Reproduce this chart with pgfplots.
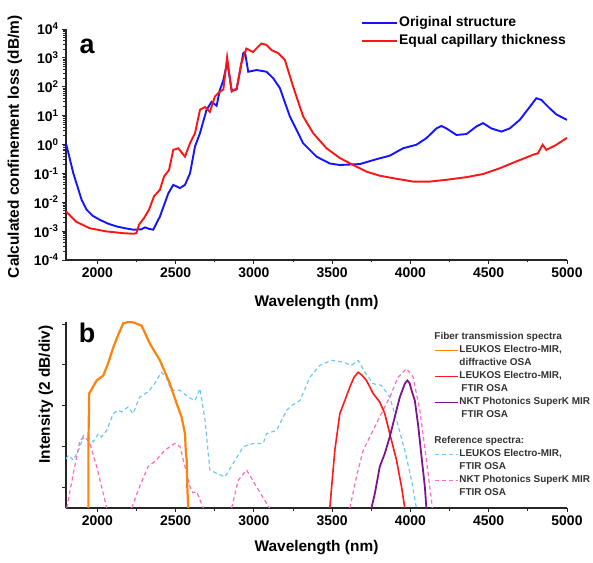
\documentclass[border=0pt]{standalone}
\usepackage{fontspec}
\setmainfont{Liberation Sans}
\usepackage{pgfplots}
\pgfplotsset{compat=1.18}

\definecolor{lossblue}{RGB}{20,20,255}
\definecolor{lossred}{RGB}{255,20,20}
\definecolor{leukorange}{RGB}{255,130,10}
\definecolor{leukred}{RGB}{255,25,25}
\definecolor{nktpurple}{RGB}{125,20,140}
\definecolor{refblue}{RGB}{110,200,245}
\definecolor{refpink}{RGB}{255,105,200}

\pgfplotsset{
  wlaxis/.style={
    scale only axis,
    anchor=south west,
    width=501bp,
    xmin=1800, xmax=5000,
    axis lines*=left,
    axis line style={line width=1.1bp, black!85},
    tick style={line width=0.9bp, black!85},
    tick align=outside,
    major tick length=4bp,
    minor tick length=2.5bp,
    xtick={2000,2500,3000,3500,4000,4500,5000},
    minor x tick num=1,
    tick label style={font=\fontsize{14}{16}\selectfont\bfseries},
    /pgf/number format/assume math mode=true,
    /pgf/number format/1000 sep={},
    label style={font=\fontsize{15.5}{18}\selectfont\bfseries},
    clip mode=individual,
  },
}

\begin{document}
\begin{tikzpicture}
\path[use as bounding box] (0,0) rectangle (593bp,563bp);
\clip (0,0) rectangle (593bp,563bp);

% ---- panel a
\begin{axis}[
  wlaxis,
  at={(66bp,303bp)},
  height=231bp,
  ymode=log,
  ymin=1e-4, ymax=1e4,
  ytick={1e-4,1e-3,1e-2,1e-1,1,1e1,1e2,1e3,1e4},
  minor ytick={2e-4,3e-4,4e-4,5e-4,6e-4,7e-4,8e-4,9e-4,
    2e-3,3e-3,4e-3,5e-3,6e-3,7e-3,8e-3,9e-3,
    2e-2,3e-2,4e-2,5e-2,6e-2,7e-2,8e-2,9e-2,
    0.2,0.3,0.4,0.5,0.6,0.7,0.8,0.9,
    2,3,4,5,6,7,8,9,
    20,30,40,50,60,70,80,90,
    200,300,400,500,600,700,800,900,
    2000,3000,4000,5000,6000,7000,8000,9000},
  yticklabels={10\textsuperscript{-4},10\textsuperscript{-3},10\textsuperscript{-2},10\textsuperscript{-1},10\textsuperscript{0},10\textsuperscript{1},10\textsuperscript{2},10\textsuperscript{3},10\textsuperscript{4}},
  xlabel={Wavelength (nm)},
  xlabel style={at={(axis description cs:0.5,-0.182)}, anchor=center},
  ylabel={Calculated confinement loss (dB/m)},
  ylabel style={at={(axis description cs:-0.102,0.49)}, anchor=center},
  legend style={at={(axis description cs:0.589,1.065)}, anchor=north west,
    draw=none, fill=none, inner sep=0pt, row sep=0pt,
    font=\fontsize{14}{16}\selectfont\bfseries,
    nodes={inner xsep=1bp, inner ysep=2bp, text height=10.5bp, text depth=3.5bp}},
  legend cell align=left,
  legend image code/.code={\draw[#1] (0bp,0bp) -- (35bp,0bp);},
]
\addplot[lossblue, line width=1.9bp] coordinates {
(1800,1.1) (1847,0.1) (1900,0.012) (1932,5.5e-3) (1970,3.4e-3) (2017,2.45e-3)
(2070,1.8e-3) (2124,1.45e-3) (2180,1.25e-3) (2230,1.12e-3) (2280,1.15e-3)
(2305,1.35e-3) (2330,1.2e-3) (2357,1.12e-3) (2400,3.2e-3) (2453,0.02)
(2485,0.04) (2528,0.031) (2560,0.04) (2592,0.10) (2624,0.85) (2656,2.5)
(2698,16) (2730,30) (2762,22) (2783,78) (2805,170) (2830,700) (2858,78)
(2890,80) (2932,1450) (2943,1600) (2964,330) (3017,380) (3081,330) (3124,195)
(3166,90) (3230,9.3) (3315,1.1) (3400,0.38) (3485,0.22) (3549,0.195)
(3677,0.21) (3783,0.31) (3868,0.41) (3953,0.74) (4038,0.98) (4102,1.66)
(4166,3.6) (4198,4.4) (4230,3.6) (4294,2.14) (4358,2.3) (4421,4.2) (4464,5.5)
(4517,3.6) (4581,2.8) (4634,3.6) (4698,7.1) (4762,20) (4804,40) (4836,35)
(4889,18) (4932,11) (5000,7.1)
};
\addlegendentry{Original structure}
\addplot[lossred, line width=1.9bp] coordinates {
(1800,4.8e-3) (1866,2.1e-3) (1951,1.26e-3) (2057,9.8e-4) (2164,8.5e-4)
(2230,8.1e-4) (2250,8.5e-4) (2266,1.66e-3) (2298,2.8e-3) (2330,5.5e-3)
(2362,0.016) (2400,0.027) (2426,0.078) (2458,0.13) (2485,0.65) (2517,0.74)
(2560,0.38) (2592,1.1) (2624,2.45) (2656,16) (2688,20) (2719,13.5) (2751,46)
(2783,68) (2805,80) (2829,1050) (2858,68) (2890,87) (2920,650) (2952,2100)
(2994,1600) (3048,3150) (3081,2800) (3113,1850) (3156,1450) (3198,850)
(3251,100) (3315,9.3) (3379,2.45) (3464,0.74) (3549,0.34) (3634,0.195)
(3719,0.115) (3804,0.083) (3911,0.065) (4017,0.052) (4124,0.052) (4230,0.06)
(4358,0.074) (4464,0.095) (4570,0.15) (4677,0.26) (4783,0.44) (4815,0.5)
(4844,0.98) (4868,0.65) (4932,0.98) (5000,1.7)
};
\addlegendentry{Equal capillary thickness}
\node[font=\fontsize{27}{30}\selectfont\bfseries] at (axis description cs:0.042,0.926) {a};
\end{axis}

% ---- panel b
\begin{axis}[
  wlaxis,
  at={(66bp,55bp)},
  height=186bp,
  ymin=0, ymax=4.55,
  ytick={0.5,1.5,2.5,3.5,4.5},
  yticklabels={},
  unbounded coords=jump,
  xlabel={Wavelength (nm)},
  xlabel style={at={(axis description cs:0.5,-0.215)}, anchor=center},
  ylabel={Intensity (2 dB/div)},
  ylabel style={at={(axis description cs:-0.04,0.61)}, anchor=center},
  legend style={at={(axis description cs:0.7345,0.954)}, anchor=north west,
    draw=none, fill=none, inner sep=0pt, row sep=0pt,
    font=\fontsize{10}{12}\selectfont\bfseries, text=black!80,
    nodes={inner xsep=1bp, inner ysep=1.5bp, text height=7.5bp, text depth=2.5bp}},
  legend cell align=left,
  legend image code/.code={\draw[#1] (0bp,0bp) -- (23bp,0bp);},
]
\addlegendimage{empty legend}
\addlegendentry{\hspace*{-25bp}Fiber transmission spectra}
\addlegendimage{leukorange, line width=1.3bp}
\addlegendentry{LEUKOS Electro-MIR,}
\addlegendimage{empty legend}
\addlegendentry{diffractive OSA}
\addlegendimage{leukred, line width=1.3bp}
\addlegendentry{LEUKOS Electro-MIR,}
\addlegendimage{empty legend}
\addlegendentry{\hspace*{2bp}FTIR OSA}
\addlegendimage{nktpurple, line width=1.3bp}
\addlegendentry{NKT Photonics SuperK MIR}
\addlegendimage{empty legend}
\addlegendentry{\hspace*{2bp}FTIR OSA}
\addlegendimage{empty legend}
\addlegendentry{}
\addlegendimage{empty legend}
\addlegendentry{\hspace*{-25bp}Reference spectra:}
\addlegendimage{refblue, line width=1.2bp, dash pattern=on 4bp off 3bp}
\addlegendentry{LEUKOS Electro-MIR,}
\addlegendimage{empty legend}
\addlegendentry{FTIR OSA}
\addlegendimage{refpink, line width=1.2bp, dash pattern=on 4bp off 3bp}
\addlegendentry{NKT Photonics SuperK MIR}
\addlegendimage{empty legend}
\addlegendentry{FTIR OSA}

% reference spectra (dashed)
\addplot[refblue, line width=1.2bp, dash pattern=on 4bp off 3bp, forget plot] coordinates {
(1800,1.2) (1815,1.29) (1847,1.17) (1890,1.50) (1911,1.78) (1940,1.74)
(1975,1.62) (2007,1.82) (2028,1.74) (2060,1.90) (2102,2.31) (2134,2.39)
(2155,2.35) (2196,2.47) (2228,2.31) (2270,2.71) (2324,2.84) (2366,3.04)
(2409,3.32) (2441,3.20) (2471,2.88) (2528,2.88) (2581,2.71) (2624,2.63)
(2656,2.92) (2688,2.15) (2719,0.93) (2762,0.85) (2815,0.76) (2868,1.09)
(2932,1.50) (2996,1.58) (3060,1.58) (3081,1.82) (3145,1.90) (3209,2.39)
(3240,2.50) (3294,2.63) (3358,3.20) (3421,3.49) (3496,3.61) (3570,3.57)
(3623,3.49) (3666,3.61) (3709,3.32) (3762,3.04) (3815,3.00) (3868,2.71)
(3911,2.15) (3964,1.41) (4007,0.68) (4038,0)
};
\addplot[refpink, line width=1.2bp, dash pattern=on 4bp off 3bp, forget plot] coordinates {
(1805,0) (1815,0.2) (1847,0.85) (1890,1.66) (1922,1.74) (1953,1.58) (1996,1.01)
(2038,0.36) (2060,0) (2140,nan)
(2219,0) (2270,0.52) (2324,1.01) (2377,1.17) (2430,1.41) (2494,1.58)
(2528,1.50) (2560,1.01) (2592,0.52) (2611,0.37) (2634,0.40) (2656,0.20)
(2677,0) (2760,nan)
(2858,0) (2900,0.68) (2953,0.93) (3017,0.52) (3081,0.11) (3100,0) (3300,nan)
(3613,0) (3655,0.76) (3698,1.41) (3751,1.82) (3804,2.23) (3868,2.71)
(3921,3.20) (3975,3.41) (4017,3.20) (4060,2.39) (4102,1.17) (4134,0.2) (4140,0)
};
% fiber transmission spectra
\addplot[leukorange, line width=2.2bp, forget plot] coordinates {
(1943,0) (1943,1.5) (1948,2.80) (1996,3.12) (2038,3.24) (2070,3.55)
(2102,3.93) (2135,4.25) (2166,4.52) (2200,4.55) (2230,4.54) (2283,4.46)
(2336,4.02) (2400,3.61) (2464,3.04) (2507,2.55) (2538,2.23) (2560,1.82)
(2565,1.40) (2571,1.17) (2575,0.50) (2581,0)
};
\addplot[leukred, line width=1.6bp, forget plot] coordinates {
(3485,0) (3517,1.41) (3549,2.31) (3581,2.63) (3613,2.96) (3640,3.20)
(3666,3.32) (3690,3.25) (3719,3.12) (3762,2.80) (3804,2.59) (3836,2.31)
(3868,1.82) (3911,1.17) (3943,0.52) (3964,0)
};
\addplot[nktpurple, line width=1.8bp, forget plot] coordinates {
(3751,0) (3773,0.36) (3804,1.01) (3836,1.33) (3868,1.74) (3900,2.23)
(3932,2.71) (3964,3.04) (3980,3.12) (3995,3.05) (4007,2.88) (4028,2.63)
(4050,2.00) (4071,1.25) (4092,0.52) (4102,0)
};
\node[font=\fontsize{27}{30}\selectfont\bfseries] at (axis description cs:0.042,0.94) {b};
\end{axis}
\end{tikzpicture}
\end{document}
